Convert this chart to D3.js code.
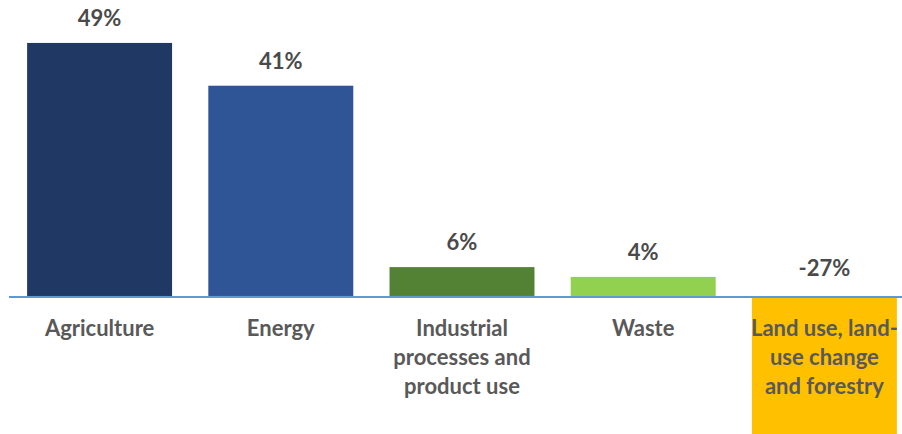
<!DOCTYPE html>
<html>
<head>
<meta charset="utf-8">
<script src="https://cdn.jsdelivr.net/npm/d3@7"></script>
<style>
  html, body { margin: 0; padding: 0; background: #ffffff; }
  svg { display: block; }
</style>
</head>
<body>
<svg id="chart" width="902" height="434"></svg>
<script>
// ---- data ----
const categories = [
  ["Agriculture"],
  ["Energy"],
  ["Industrial", "processes and", "product use"],
  ["Waste"],
  ["Land use, land-", "use change", "and forestry"]
];
const values = [49.1, 40.8, 5.6, 3.7, -27];
const valueLabels = ["49%", "41%", "6%", "4%", "-27%"];
const colors = ["#203864", "#2F5597", "#548235", "#92D050", "#FFC000"];

// ---- layout ----
const W = 902, H = 434;
const svg = d3.select("#chart");
const font = "Lato, 'Open Sans', sans-serif";

const x = d3.scaleBand()
  .domain(d3.range(values.length))
  .range([9, 915])
  .paddingInner(0.2)
  .paddingOuter(0.1);

const y = d3.scaleLinear()
  .domain([-27.5, 50])
  .range([437.7, 38.3]);

const y0 = y(0);

// bars
svg.append("g").selectAll("rect")
  .data(values)
  .join("rect")
  .attr("x", (d, i) => x(i))
  .attr("width", x.bandwidth())
  .attr("y", d => y(Math.max(0, d)))
  .attr("height", d => Math.abs(y(d) - y0))
  .attr("fill", (d, i) => colors[i]);

// axis (baseline)
const axis = d3.axisBottom(x).tickSize(0).tickFormat("");
const axG = svg.append("g").attr("transform", `translate(0,${y0 + 1})`).call(axis);
axG.select(".domain").remove();
axG.append("line")
  .attr("x1", 9).attr("x2", W)
  .attr("stroke", "#5B9BD5").attr("stroke-width", 2);

// value labels
svg.append("g").selectAll("text")
  .data(values)
  .join("text")
  .attr("x", (d, i) => x(i) + x.bandwidth() / 2)
  .attr("y", d => d >= 0 ? y(d) - 17 : y0 - 20)
  .attr("text-anchor", "middle")
  .attr("font-family", font)
  .attr("font-weight", "bold")
  .attr("font-size", 22)
  .attr("fill", "#4a4a4a")
  .text((d, i) => valueLabels[i]);

// category labels
const catG = svg.append("g");
categories.forEach((lines, i) => {
  const t = catG.append("text")
    .attr("x", x(i) + x.bandwidth() / 2)
    .attr("y", y0 + 40.5)
    .attr("text-anchor", "middle")
    .attr("font-family", font)
    .attr("font-weight", "bold")
    .attr("font-size", 22)
    .attr("fill", "#595959");
  lines.forEach((ln, k) => {
    t.append("tspan")
      .attr("x", x(i) + x.bandwidth() / 2)
      .attr("dy", k === 0 ? 0 : 29)
      .text(ln);
  });
});
</script>
</body>
</html>
